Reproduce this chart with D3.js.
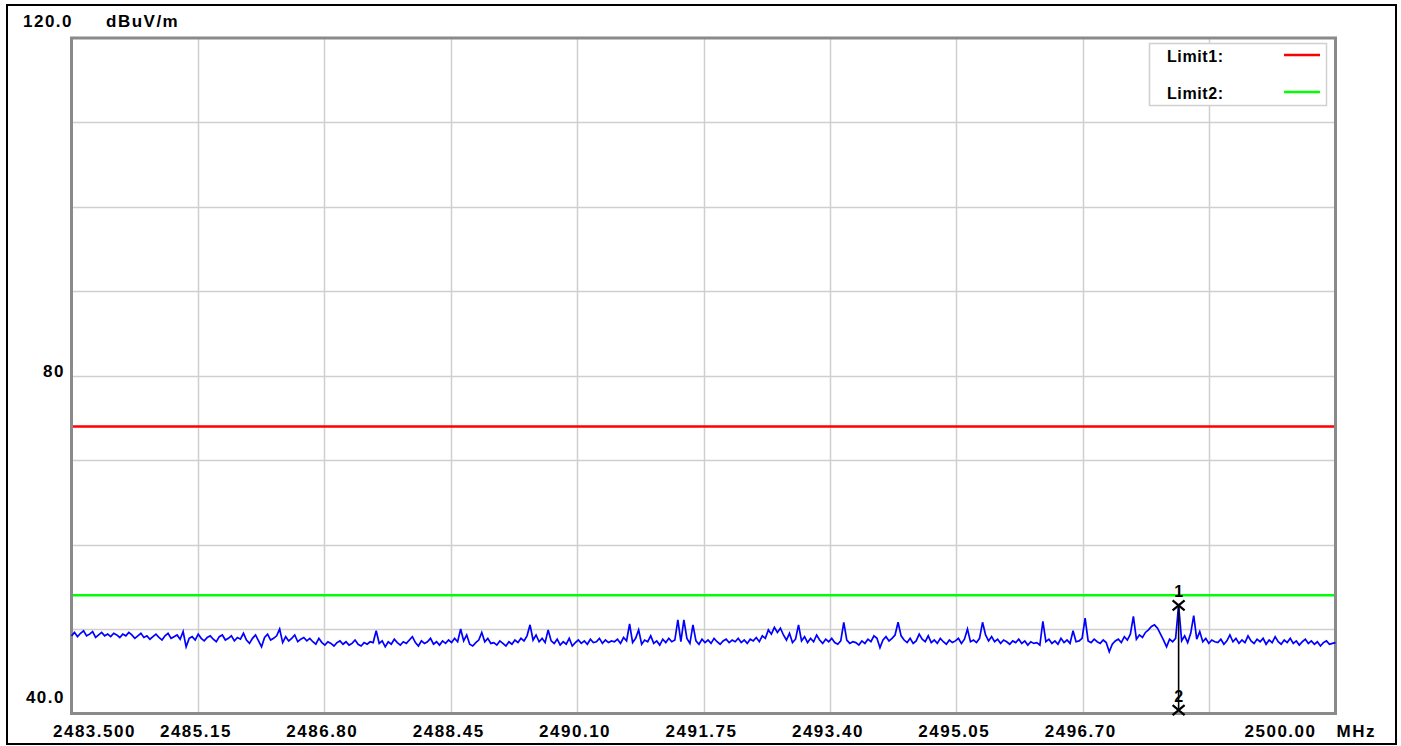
<!DOCTYPE html>
<html>
<head>
<meta charset="utf-8">
<script src="https://cdn.jsdelivr.net/npm/d3@7"></script>
<style>
  html, body { margin: 0; padding: 0; background: #fff; }
  svg { display: block; }
  text { font-family: "Liberation Sans", Arial, sans-serif; font-weight: bold; fill: #000; }
</style>
</head>
<body>
<svg id="chart" width="1401" height="746"></svg>
<script>
// ---------- data ----------
const freqStart = 2483.5;
const freqStop = 2500.0;
const yMin = 40;
const yMax = 120;
const yUnit = "dBuV/m";
const xUnit = "MHz";

const xTicks = [2483.5, 2485.15, 2486.8, 2488.45, 2490.1, 2491.75, 2493.4, 2495.05, 2496.7, 2498.35, 2500.0];
const xTickLabels = ["2483.500", "2485.15", "2486.80", "2488.45", "2490.10", "2491.75", "2493.40", "2495.05", "2496.70", "", "2500.00"];
const yGrid = [40, 50, 60, 70, 80, 90, 100, 110, 120];
const yTicks = [120, 80, 40];
const yTickLabels = ["120.0", "80", "40.0"];

const limitNames = ["Limit1:", "Limit2:"];
const limitValues = [74, 54];
const limitColors = ["#ff0000", "#00ff00"];

// measured trace (dBuV/m), one value per sweep point
const traceValues = [
  49.2,49.6,49.1,49.5,49.8,49.2,49.4,49.7,49.0,49.3,49.6,49.2,49.4,49.1,49.5,49.3,49.0,49.4,49.2,49.6,
  49.3,48.9,49.2,49.5,49.0,49.2,48.8,49.1,49.4,49.0,48.7,49.2,49.5,48.9,49.1,49.3,48.8,49.7,47.9,48.9,
  49.1,48.7,49.4,48.9,48.6,49.0,49.2,48.8,48.5,49.1,49.3,48.7,48.9,49.2,48.6,49.0,48.8,49.5,48.7,48.3,
  48.9,49.3,48.6,47.9,49.0,49.4,48.7,48.9,49.2,50.0,48.4,49.1,48.6,48.9,49.3,48.5,48.8,49.0,48.6,48.9,
  48.5,48.2,48.9,48.4,48.1,48.5,48.3,48.0,48.4,48.6,48.2,48.5,48.1,48.3,48.7,48.2,48.0,48.4,48.2,48.5,
  48.4,49.8,48.3,48.6,47.9,48.5,48.2,48.8,48.4,48.1,48.5,48.3,48.7,49.1,48.4,48.0,48.6,48.3,48.5,48.9,
  48.2,48.5,48.1,48.6,48.3,48.7,48.4,48.9,48.5,50.0,48.6,49.3,48.2,48.0,48.4,48.7,49.6,48.5,48.9,48.3,
  48.4,48.1,48.6,48.3,48.0,48.5,48.2,48.7,48.4,48.9,48.6,49.2,50.5,48.7,49.3,48.5,48.9,48.4,49.9,48.6,
  48.3,48.8,48.1,48.5,48.2,48.9,48.0,48.4,48.7,48.3,48.6,48.2,48.8,48.4,48.5,48.9,48.3,48.7,48.4,48.6,
  48.5,48.8,48.3,49.0,48.6,50.6,48.4,48.9,49.9,48.2,48.7,48.5,49.2,48.3,48.6,48.1,48.8,48.4,48.9,48.5,
  48.7,51.1,48.5,51.1,48.9,48.3,50.5,48.6,48.2,48.8,48.4,48.7,48.3,48.9,48.5,48.2,48.6,48.8,48.4,48.7,
  48.5,48.9,48.4,48.7,48.3,48.8,48.6,49.0,48.5,49.2,48.9,49.9,49.4,50.2,49.6,50.1,49.3,48.7,49.5,48.4,
  48.8,50.5,48.6,49.1,48.4,48.9,48.5,49.3,48.7,48.3,48.8,48.5,48.9,48.4,48.2,48.6,50.8,48.7,48.3,48.5,
  48.4,48.1,48.6,48.3,48.8,48.5,49.2,48.9,47.8,48.7,49.1,48.6,48.9,49.3,50.8,49.2,48.7,48.4,48.9,48.3,
  48.6,49.4,48.8,48.5,49.2,48.4,48.7,48.3,48.9,48.5,48.2,48.7,48.4,48.6,48.9,48.3,48.8,50.0,48.5,48.7,
  48.4,48.9,50.8,49.3,48.6,49.1,48.5,48.8,48.3,48.7,48.5,48.2,48.6,48.4,48.8,48.3,48.6,48.1,48.5,48.3,
  48.4,48.1,50.9,48.5,48.8,48.3,48.6,48.2,48.9,48.4,48.7,48.3,49.8,48.5,48.6,48.9,51.3,48.6,48.4,48.8,
  48.5,48.3,48.7,48.4,47.3,48.2,48.6,48.8,48.4,49.1,48.7,49.4,51.5,48.8,49.3,49.0,49.6,49.9,50.3,50.5,
  50.1,49.4,48.7,47.9,48.8,48.5,48.9,52.8,48.6,49.2,48.4,49.5,51.6,48.8,49.7,48.5,48.9,48.3,48.7,48.5,
  48.4,48.8,48.2,48.6,49.3,48.5,48.9,48.3,48.7,48.4,49.2,48.6,48.3,48.8,48.5,48.9,48.2,48.7,48.4,49.1,
  48.5,48.2,48.7,48.4,48.9,48.3,48.6,48.1,48.5,48.8,48.3,48.6,48.2,48.5,48.0,48.4,48.6,48.2,48.3,48.4
];

const markerIds = ["1", "2"];
const markerFreqs = [2497.952, 2497.952];
const markerLevels = [52.8, 40.4];

// ---------- drawing ----------
const svg = d3.select("#chart");
const plot = { left: 71.5, right: 1335.5, top: 38, bottom: 713.5 };

const x = d3.scaleLinear().domain([freqStart, freqStop]).range([plot.left, plot.right]);
const y = d3.scaleLinear().domain([yMin, yMax]).range([plot.bottom, plot.top]);

// outer black frame
svg.append("rect")
  .attr("x", 7).attr("y", 5).attr("width", 1389).attr("height", 739)
  .attr("fill", "#fff").attr("stroke", "#000").attr("stroke-width", 2);

// grid
const grid = svg.append("g").attr("stroke", "#cfcfcf").attr("stroke-width", 1.5);
grid.selectAll("line.v").data(xTicks.slice(1, -1)).join("line")
  .attr("x1", d => Math.round(x(d)) + 0.5).attr("x2", d => Math.round(x(d)) + 0.5)
  .attr("y1", plot.top).attr("y2", plot.bottom);
grid.selectAll("line.h").data(yGrid.slice(1, -1)).join("line")
  .attr("y1", d => Math.round(y(d)) + 0.5).attr("y2", d => Math.round(y(d)) + 0.5)
  .attr("x1", plot.left).attr("x2", plot.right);

// plot frame
svg.append("rect")
  .attr("x", plot.left).attr("y", plot.top)
  .attr("width", plot.right - plot.left).attr("height", plot.bottom - plot.top)
  .attr("fill", "none").attr("stroke", "#8a8a8a").attr("stroke-width", 3);

// limit lines
svg.append("g").selectAll("line").data(limitValues).join("line")
  .attr("x1", plot.left + 1.5).attr("x2", plot.right - 1.5)
  .attr("y1", d => y(d)).attr("y2", d => y(d))
  .attr("stroke", (d, i) => limitColors[i]).attr("stroke-width", 2.5);

// trace
const n = traceValues.length;
const sweepFreq = i => freqStart + i * (freqStop - freqStart) / (n - 1);
const line = d3.line().x((d, i) => x(sweepFreq(i))).y(d => y(d));
svg.append("path").datum(traceValues)
  .attr("d", line).attr("fill", "none")
  .attr("stroke", "#0000ff").attr("stroke-width", 1.7).attr("stroke-linejoin", "miter");

// markers
const mk = svg.append("g");
mk.append("line")
  .attr("x1", x(markerFreqs[0])).attr("x2", x(markerFreqs[1]))
  .attr("y1", y(markerLevels[0])).attr("y2", y(markerLevels[1]))
  .attr("stroke", "#000").attr("stroke-width", 1.6);
markerIds.forEach((id, i) => {
  const cx = x(markerFreqs[i]), cy = y(markerLevels[i]);
  const g = mk.append("g").attr("transform", `translate(${cx},${cy})`);
  g.append("path").attr("d", "M-6,-5L6,5M6,-5L-6,5")
    .attr("stroke", "#000").attr("stroke-width", 2.2).attr("fill", "none");
  g.append("text").attr("x", 0).attr("y", -8).attr("text-anchor", "middle")
    .style("font-size", "16px").text(id);
});

// y labels
const yl = svg.append("g").style("font-size", "17px").style("letter-spacing", "1.5px");
yTicks.forEach((v, i) => {
  const isEnd = (v === yMax || v === yMin);
  yl.append("text")
    .attr("x", 65).attr("y", isEnd ? y(v) - 11 : y(v) + 1)
    .attr("text-anchor", v === yMax ? "start" : "end")
    .attr("dx", v === yMax ? -42 : 0)
    .text(yTickLabels[i]);
});
yl.append("text").attr("x", 106).attr("y", y(yMax) - 11).text(yUnit);

// x labels
const xl = svg.append("g").style("font-size", "17px").style("letter-spacing", "1.5px");
xTicks.forEach((v, i) => {
  if (!xTickLabels[i]) return;
  let anchor = "middle", px = x(v) - 2;
  if (i === 0) { anchor = "start"; px = 53; }
  if (i === xTicks.length - 1) { anchor = "end"; px = x(v) - 19; }
  xl.append("text").attr("x", px).attr("y", 737).attr("text-anchor", anchor).text(xTickLabels[i]);
});
xl.append("text").attr("x", x(freqStop) + 1).attr("y", 737).text(xUnit);

// legend
const lg = svg.append("g");
lg.append("rect").attr("x", 1149.5).attr("y", 43.5).attr("width", 177).attr("height", 62)
  .attr("fill", "#fff").attr("stroke", "#d0d0d0").attr("stroke-width", 1.5);
limitNames.forEach((name, i) => {
  const ly = 55 + i * 37;
  lg.append("text").attr("x", 1167).attr("y", ly + 7)
    .style("font-size", "16px").style("letter-spacing", "0.6px").text(name);
  lg.append("line").attr("x1", 1284).attr("x2", 1320).attr("y1", ly).attr("y2", ly)
    .attr("stroke", limitColors[i]).attr("stroke-width", 2.5);
});
</script>
</body>
</html>
